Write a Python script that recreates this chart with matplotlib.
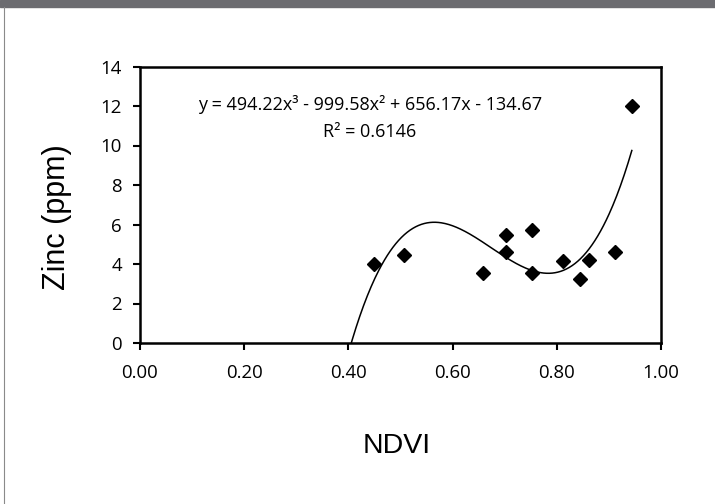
import matplotlib
matplotlib.use("Agg")
import matplotlib.pyplot as plt
import numpy as np

# NDVI vs Zinc (ppm)
ndvi = [0.45, 0.507, 0.659, 0.702, 0.702, 0.752, 0.752, 0.811, 0.845, 0.862, 0.912, 0.944]
zinc = [4.01, 4.45, 3.55, 5.46, 4.60, 5.71, 3.55, 4.13, 3.25, 4.18, 4.63, 11.98]

# cubic trendline coefficients (highest power first)
coef = [494.22, -999.58, 656.17, -134.67]
eq_text = "y = 494.22x³ - 999.58x² + 656.17x - 134.67"
r2_text = "R² = 0.6146"

xticks = [0.0, 0.2, 0.4, 0.6, 0.8, 1.0]
yticks = [0, 2, 4, 6, 8, 10, 12, 14]

fig = plt.figure(figsize=(7.15, 5.04), dpi=100)
ax = fig.add_axes([140/715, 1-343/504, 521/715, 276.5/504])

# top grey bar and thin left border
fig.patches.append(plt.Rectangle((0, 1-7/504), 1, 7/504, transform=fig.transFigure,
                                 color="#6c6c70", zorder=0))
fig.lines.append(plt.Line2D([4/715, 4/715], [0, 1-7/504], transform=fig.transFigure,
                            color="#8a8a8a", lw=0.8))

xs = np.linspace(0.40, 0.944, 300)
ax.plot(xs, np.polyval(coef, xs), color="black", lw=1.1, zorder=2)
ax.plot(ndvi, zinc, "D", color="black", ms=6.8, zorder=3)

ax.set_xlim(0, 1)
ax.set_ylim(0, 14)
ax.set_xticks(xticks)
ax.set_yticks(yticks)
ax.set_xticklabels(["%.2f" % v for v in xticks])
ax.set_yticklabels([str(v) for v in yticks])

for lab in ax.get_xticklabels() + ax.get_yticklabels():
    lab.set_fontfamily("Open Sans")
    lab.set_fontsize(13.4)

for s in ax.spines.values():
    s.set_linewidth(1.8)
ax.tick_params(axis="both", direction="out", length=5, width=1.5)
ax.tick_params(axis="y", pad=8)
ax.tick_params(axis="x", pad=10)

ax.text(0.4415, 0.861, eq_text, transform=ax.transAxes, ha="center", va="center",
        family="Open Sans", size=13.0)
ax.text(0.4415, 0.763, r2_text, transform=ax.transAxes, ha="center", va="center",
        family="Open Sans", size=13.0)

fig.text(57/715, 1-216.7/504, "Zinc (ppm)", rotation=90, ha="center", va="center",
         family=["Liberation Sans", "DejaVu Sans"], size=22)
fig.text(397/715, 1-453.3/504, "NDVI", ha="center", va="baseline",
         family=["Liberation Sans Narrow", "Liberation Sans"], size=20.5)

fig.savefig("out.png", dpi=100, facecolor="white")
